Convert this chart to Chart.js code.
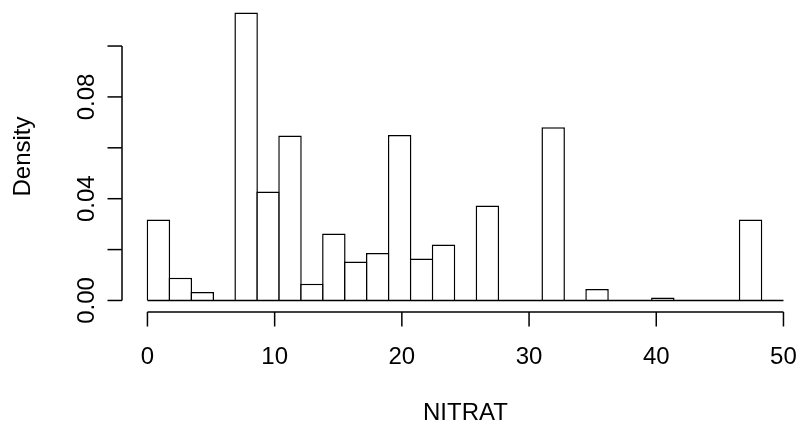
<!DOCTYPE html>
<html>
<head>
<meta charset="utf-8">
<script src="https://cdn.jsdelivr.net/npm/chart.js@4/dist/chart.umd.min.js"></script>
<style>
  html, body { margin: 0; padding: 0; background: #fff; overflow: hidden; }
</style>
</head>
<body>
<canvas id="hist" width="800" height="428"></canvas>
<script>
// 29 classes de même largeur entre 0 et 50
const binCount = 29;
const breaks = Array.from({ length: binCount + 1 }, (_, i) => i * 50 / binCount);
const density = [
  0.0318, 0.0089, 0.0033, 0, 0.1132, 0.0428, 0.0648, 0.0066, 0.0263, 0.0153,
  0.0187, 0.0650, 0.0165, 0.0220, 0, 0.0373, 0, 0, 0.0681, 0,
  0.0045, 0, 0, 0.0012, 0, 0, 0, 0.0318, 0
];
const xTicks = [0, 10, 20, 30, 40, 50];
const yTicks = [0, 0.02, 0.04, 0.06, 0.08, 0.10];
const yTickLabels = ['0.00', '', '0.04', '', '0.08', ''];
const xTitle = 'NITRAT';
const yTitle = 'Density';

const points = density.map((d, i) => ({ x: (breaks[i] + breaks[i + 1]) / 2, y: d }));

// axes façon R (trait limité aux graduations)
const rAxes = {
  id: 'rAxes',
  afterDatasetsDraw(chart) {
    const { ctx, chartArea, scales: { x, y } } = chart;
    const line = (x1, y1, x2, y2) => {
      ctx.beginPath(); ctx.moveTo(x1, y1); ctx.lineTo(x2, y2); ctx.stroke();
    };
    ctx.save();
    ctx.strokeStyle = '#000';
    ctx.fillStyle = '#000';
    ctx.lineWidth = 1.5;
    ctx.font = '24px "Liberation Sans", Arial, sans-serif';

    // ligne de base (aussi pour les classes vides)
    const y0 = y.getPixelForValue(0);
    line(x.getPixelForValue(breaks[0]), y0, x.getPixelForValue(breaks[breaks.length - 1]), y0);

    // axe x
    const ay = chartArea.bottom;
    line(x.getPixelForValue(xTicks[0]), ay, x.getPixelForValue(xTicks[xTicks.length - 1]), ay);
    ctx.textAlign = 'center';
    ctx.textBaseline = 'alphabetic';
    xTicks.forEach(t => {
      const px = x.getPixelForValue(t);
      line(px, ay, px, ay + 14.5);
      ctx.fillText(String(t), px, ay + 52);
    });

    // axe y
    const ax = chartArea.left;
    line(ax, y.getPixelForValue(yTicks[0]), ax, y.getPixelForValue(yTicks[yTicks.length - 1]));
    yTicks.forEach((t, i) => {
      const py = y.getPixelForValue(t);
      line(ax - 14.5, py, ax, py);
      if (yTickLabels[i]) {
        ctx.save();
        ctx.translate(ax - 28.2, py);
        ctx.rotate(-Math.PI / 2);
        ctx.fillText(yTickLabels[i], 0, 0);
        ctx.restore();
      }
    });

    // titres
    ctx.fillText(xTitle, x.getPixelForValue(25), ay + 107.7);
    ctx.save();
    ctx.translate(29.5, (chartArea.top + chartArea.bottom) / 2);
    ctx.rotate(-Math.PI / 2);
    ctx.fillText(yTitle, 0, 0);
    ctx.restore();
    ctx.restore();
  }
};

new Chart(document.getElementById('hist').getContext('2d'), {
  type: 'bar',
  data: {
    datasets: [{
      data: points,
      backgroundColor: '#fff',
      borderColor: '#000',
      borderWidth: 1.5,
      borderSkipped: 'start',
      // un peu plus large pour que les bords voisins se superposent
      barPercentage: 1.07,
      categoryPercentage: 1
    }]
  },
  options: {
    responsive: false,
    animation: false,
    devicePixelRatio: 1,
    layout: { padding: { left: 122, right: 0, top: 1, bottom: 116 } },
    plugins: { legend: { display: false }, tooltip: { enabled: false } },
    scales: {
      x: { type: 'linear', display: false, offset: false, min: -2, max: 51.3 },
      y: { display: false, min: -0.00453, max: 0.1177 }
    }
  },
  plugins: [rAxes]
});
</script>
</body>
</html>
